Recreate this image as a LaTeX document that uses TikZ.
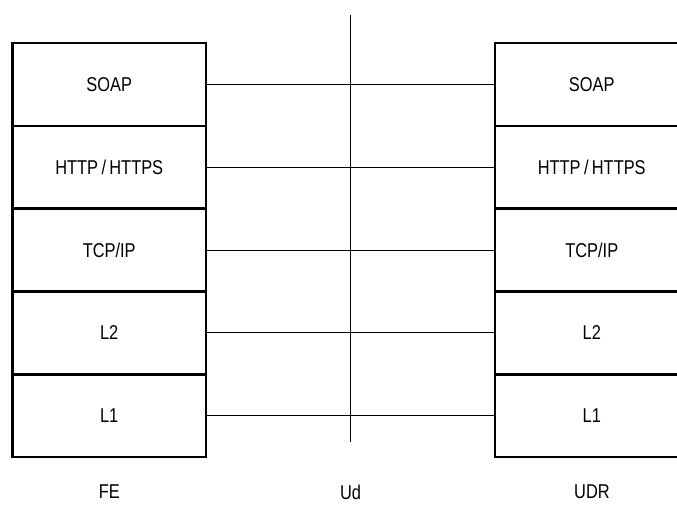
\documentclass[tikz,border=0pt]{standalone}
\usepackage{fontspec}
\setmainfont{Liberation Sans}
\newfontfamily\stackfont[FakeStretch=0.82]{Liberation Sans}
\usetikzlibrary{positioning}

\begin{document}
\begin{tikzpicture}[x=1pt,y=-1pt,
    layer/.style={rectangle,draw,line width=2.6pt,fill=white,inner sep=0pt,outer sep=0pt,
      minimum width=193.5pt,minimum height=82.8pt,font=\stackfont\fontsize{20}{24}\selectfont},
    link/.style={line width=0.9pt},
    caption/.style={inner sep=0pt,font=\stackfont\fontsize{20}{24}\selectfont}
    ]

    \useasboundingbox (0,0) rectangle (677,505);

    % protocol stacks
    \foreach \t [count=\i] in {SOAP,HTTP\,/\,HTTPS,TCP/IP,L2,L1} {
      \node (fe\i) [layer] at (109.25, 84.5 + 82.8 * \i - 82.8) {\t};
      \node (udr\i) [layer] at (591.75, 84.5 + 82.8 * \i - 82.8) {\t};
    }

    % reference point
    \coordinate (udtop) at (350.5,15);
    \coordinate (udbot) at (350.5,442);
    \draw[link] (udtop) -- (udbot);

    \foreach \i in {1,...,5}
      \draw[link] (fe\i.east) -- (udr\i.west);

    \node (felabel) [caption] at (fe5.south |- 0,492) {FE};
    \node (udlabel) [caption] at (350.5,492) {Ud};
    \node (udrlabel) [caption] at (592,492) {UDR};

  \end{tikzpicture}
\end{document}
